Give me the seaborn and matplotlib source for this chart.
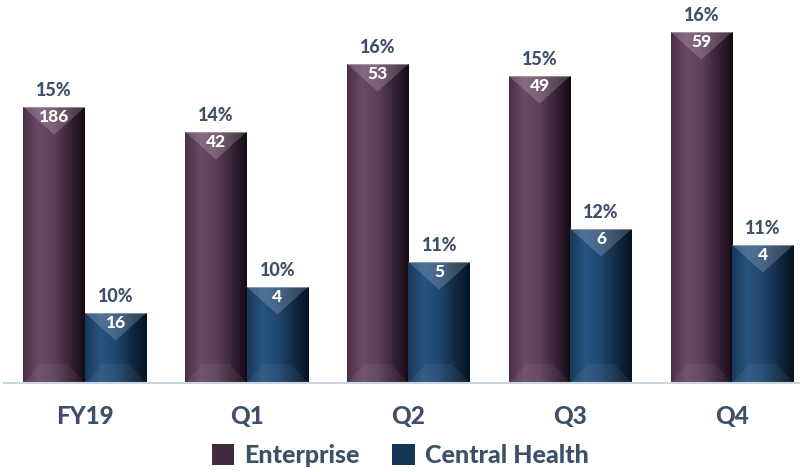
import numpy as np
import pandas as pd
import matplotlib
matplotlib.use("Agg")
import matplotlib.pyplot as plt
import seaborn as sns
from matplotlib.colors import LinearSegmentedColormap
from matplotlib.patches import Polygon, Patch

# ---- data ----
categories = ["FY19", "Q1", "Q2", "Q3", "Q4"]
series_names = ["Enterprise", "Central Health"]
enterprise_pct = [14.62, 14.03, 15.65, 15.36, 16.41]
central_pct = [9.72, 10.34, 10.93, 11.72, 11.34]
enterprise_pct_labels = ["15%", "14%", "16%", "15%", "16%"]
central_pct_labels = ["10%", "10%", "11%", "12%", "11%"]
enterprise_counts = ["186", "42", "53", "49", "59"]
central_counts = ["16", "4", "5", "6", "4"]

df = pd.DataFrame({
    "category": categories * 2,
    "series": [series_names[0]] * 5 + [series_names[1]] * 5,
    "value": enterprise_pct + central_pct,
})

base_colors = {"Enterprise": "#5a3b57", "Central Health": "#1d4468"}
grad_stops = {
    "Enterprise": ["#4a2f47", "#6b4a67", "#5e3f5a", "#3a2337", "#140a13"],
    "Central Health": ["#183a5a", "#285381", "#1f4670", "#112b45", "#051220"],
}
legend_colors = {"Enterprise": "#3e2a3c", "Central Health": "#163658"}
text_color = "#3d5068"
W = 900

sns.set_style("white")
plt.rcParams["font.family"] = ["Lato", "DejaVu Sans"]

fig = plt.figure(figsize=(8, 4.72), dpi=100)
ax = fig.add_axes([4 / 800, 1 - 383 / 472, 809 / 800, 383 / 472])

sns.barplot(data=df, x="category", y="value", hue="series", order=categories,
            hue_order=series_names, palette=base_colors, width=0.76,
            saturation=1, gap=0, legend=False, ax=ax, linewidth=0)

ymin, ymax = 8.05, 8.05 + 383 / 42
ax.set_ylim(ymin, ymax)
ax.set_xlim(-0.5, 4.5)

# gradient overlays + bevel decorations
bars = list(ax.patches)
nb = len(categories)
for i, patch in enumerate(bars):
    s = series_names[0] if i < nb else series_names[1]
    cmap = LinearSegmentedColormap.from_list(s, grad_stops[s])
    x0, w = patch.get_x(), patch.get_width()
    top = patch.get_y() + patch.get_height()
    grad = np.linspace(0, 1, 256).reshape(1, -1)
    im = ax.imshow(grad, cmap=cmap, extent=[x0, x0 + w, ymin, top],
                   aspect="auto", zorder=2, interpolation="bicubic")
    im.set_clip_path(patch)
    d = 0.66
    tri = Polygon([[x0, top], [x0 + w, top], [x0 + w / 2, top - d]],
                  closed=True, facecolor="white", alpha=0.18, zorder=3, lw=0)
    ax.add_patch(tri)
    b = 0.45
    trap = Polygon([[x0, ymin], [x0 + w, ymin], [x0 + w * 0.72, ymin + b],
                    [x0 + w * 0.28, ymin + b]], closed=True,
                   facecolor="white", alpha=0.06, zorder=3, lw=0)
    ax.add_patch(trap)
    ax.plot([x0, x0 + w], [top, top], color="#b8b8c0", lw=0.8, alpha=0.6,
            zorder=4, solid_capstyle="butt")

ax.set_ylim(ymin, ymax)
ax.set_xlim(-0.5, 4.5)

# labels
for i, patch in enumerate(bars):
    cx = patch.get_x() + patch.get_width() / 2
    top = patch.get_y() + patch.get_height()
    if i < nb:
        pl, cl = enterprise_pct_labels[i], enterprise_counts[i]
    else:
        pl, cl = central_pct_labels[i - nb], central_counts[i - nb]
    ax.annotate(pl, (cx, top), xytext=(0, 12), textcoords="offset points",
                ha="center", va="center", fontsize=13, fontweight=W,
                color=text_color, zorder=5)
    ax.annotate(cl, (cx, top), xytext=(0, -7.5), textcoords="offset points",
                ha="center", va="center", fontsize=12.5, fontweight=W,
                color="white", zorder=5)

# axes styling
for sp in ["left", "right", "top"]:
    ax.spines[sp].set_visible(False)
ax.spines["bottom"].set_color("#c9d4df")
ax.spines["bottom"].set_linewidth(1.5)
ax.set_yticks([])
ax.set_xlabel("")
ax.set_ylabel("")
ax.tick_params(axis="x", length=0, pad=16, labelsize=17.5, labelcolor=text_color)
for lbl in ax.get_xticklabels():
    lbl.set_fontweight(W)

handles = [Patch(facecolor=legend_colors[s], edgecolor="none") for s in series_names]
fig.legend(handles, series_names, loc="center", bbox_to_anchor=(0.5, 0.034),
           ncol=2, frameon=False, handlelength=0.9, handleheight=0.9,
           handletextpad=0.4, columnspacing=1.3,
           prop={"size": 18, "weight": W}, labelcolor=text_color)

fig.savefig("out.png", dpi=100)
